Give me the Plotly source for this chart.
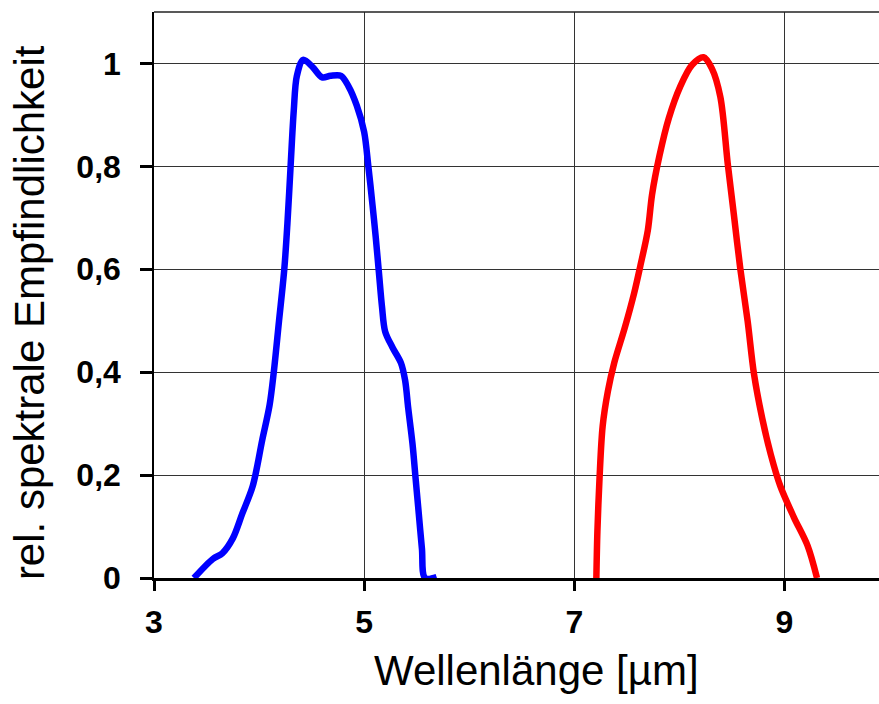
import plotly.graph_objects as go

# Blue curve (MWIR channel)
blue_x = [3.38, 3.56, 3.65, 3.75, 3.84, 3.94, 4.03, 4.10, 4.14, 4.19, 4.24, 4.27, 4.30, 4.33,
          4.36, 4.42, 4.51, 4.60, 4.68, 4.78, 4.85, 4.93, 5.00, 5.04, 5.08, 5.11, 5.14, 5.17,
          5.20, 5.27, 5.35, 5.39, 5.42, 5.46, 5.49, 5.52, 5.55, 5.58, 5.69]
blue_y = [0.0, 0.037, 0.048, 0.077, 0.125, 0.179, 0.268, 0.336, 0.40, 0.50, 0.60, 0.69, 0.80, 0.908,
          0.976, 1.007, 0.993, 0.973, 0.976, 0.976, 0.956, 0.918, 0.867, 0.80, 0.724, 0.663, 0.595, 0.527,
          0.479, 0.448, 0.418, 0.384, 0.329, 0.261, 0.193, 0.125, 0.057, 0.0, 0.002]

# Red curve (LWIR channel)
red_x = [7.21, 7.22, 7.24, 7.27, 7.32, 7.38, 7.48, 7.57, 7.63, 7.70, 7.74, 7.81, 7.90, 8.01,
         8.12, 8.23, 8.31, 8.39, 8.46, 8.52, 8.58, 8.65, 8.71, 8.79, 8.87, 8.96, 9.09, 9.22, 9.31]
red_y = [0.0, 0.091, 0.193, 0.295, 0.363, 0.418, 0.486, 0.554, 0.608, 0.676, 0.745, 0.82, 0.894, 0.956,
         0.997, 1.012, 0.99, 0.935, 0.806, 0.704, 0.601, 0.499, 0.397, 0.309, 0.240, 0.179, 0.118, 0.063, 0.0]

x_ticks = [3, 5, 7, 9]
y_ticks = [0, 0.2, 0.4, 0.6, 0.8, 1.0]
y_tick_labels = ["0", "0,2", "0,4", "0,6", "0,8", "1"]

x_title = "Wellenlänge [µm]"
y_title = "rel. spektrale Empfindlichkeit"

FONT = "Liberation Sans, Arial, sans-serif"

fig = go.Figure()
fig.add_trace(go.Scatter(x=blue_x, y=blue_y, mode="lines",
                         line=dict(color="#0000FF", width=6.5, shape="spline", smoothing=0.9),
                         showlegend=False, hoverinfo="skip"))
fig.add_trace(go.Scatter(x=red_x, y=red_y, mode="lines",
                         line=dict(color="#FF0000", width=6.5, shape="spline", smoothing=0.9),
                         showlegend=False, hoverinfo="skip"))

fig.update_layout(
    width=879, height=704,
    margin=dict(l=154, r=0, t=12, b=126, pad=0),
    paper_bgcolor="white", plot_bgcolor="white",
    font=dict(family=FONT, color="black"),
    xaxis=dict(range=[3, 9.9], tickvals=x_ticks, ticktext=[str(v) for v in x_ticks],
               showgrid=True, gridcolor="#333333", gridwidth=1.2,
               showline=True, linecolor="black", linewidth=3,
               ticks="outside", ticklen=10, tickwidth=3, tickcolor="black",
               tickfont=dict(family=FONT, size=32, color="black", weight="bold"),
               ticklabelstandoff=4, zeroline=False, fixedrange=True),
    yaxis=dict(range=[0, 1.1], tickvals=y_ticks, ticktext=y_tick_labels,
               showgrid=True, gridcolor="#333333", gridwidth=1.2,
               showline=True, linecolor="black", linewidth=1.5,
               ticks="outside", ticklen=12, tickwidth=3, tickcolor="black",
               tickfont=dict(family=FONT, size=32, color="black", weight="bold"),
               ticklabelstandoff=13, zeroline=False, fixedrange=True),
    shapes=[dict(type="line", xref="paper", yref="paper", x0=0, x1=1, y0=1, y1=1,
                 line=dict(color="#222222", width=1.5))],
    annotations=[
        dict(text=x_title, xref="paper", yref="paper", x=0.527, y=-0.164,
             xanchor="center", yanchor="middle", showarrow=False,
             font=dict(family=FONT, size=42, color="black")),
        dict(text=y_title, xref="paper", yref="paper", x=-0.1724, y=0.468,
             xanchor="center", yanchor="middle", showarrow=False, textangle=-90,
             font=dict(family=FONT, size=42, color="black")),
    ],
)

fig.write_html("out.html")
